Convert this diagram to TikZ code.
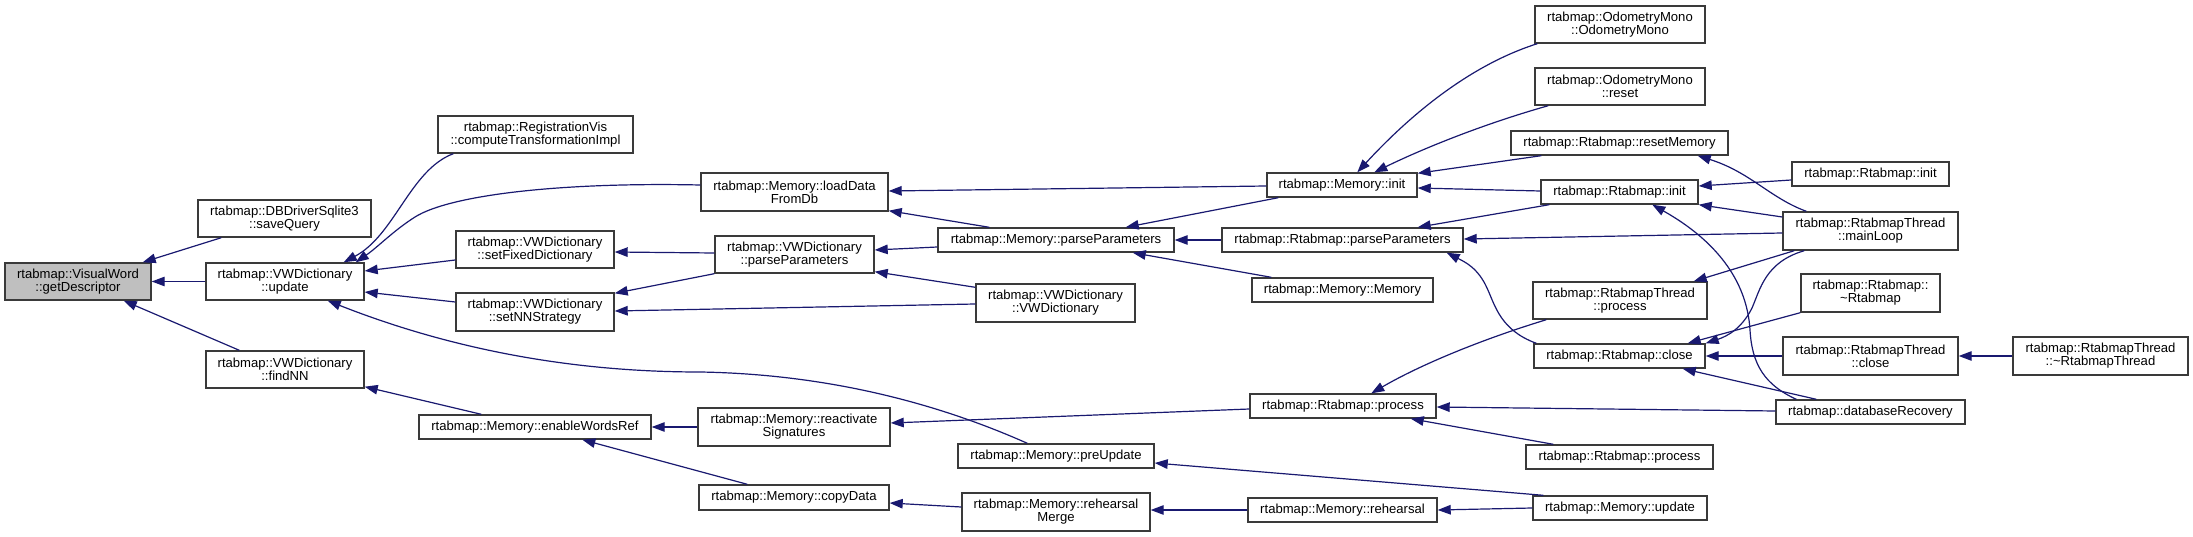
\documentclass[tikz,border=0pt]{standalone}
\usepackage{fontspec}
\setmainfont{Liberation Sans}
\usetikzlibrary{arrows.meta,calc}
\definecolor{edgeblue}{HTML}{191970}
\definecolor{bordergray}{HTML}{3A3A3A}
\definecolor{gdgray}{HTML}{BFBFBF}
\newcommand{\fs}{\fontsize{13.1}{13}\selectfont}
\newcommand{\bx}[7][]{\node[box,#1,minimum width={(#5-#3)*1pt},minimum height={(#6-#4)*1pt}] (#2) at ({(#3+#5)/2},{(#4+#6)/2}) {#7};}
\begin{document}
\begin{tikzpicture}[x=1pt,y=-1pt,
  box/.style={draw=bordergray, line width=1.4pt, fill=white, inner sep=0pt, align=center, font=\fs},
  edge/.style={draw=edgeblue, line width=1.2pt, -{Triangle[length=13pt,width=9.5pt]}}]
\fill[white] (0,0) rectangle (2193,537);
\useasboundingbox (0,0) rectangle (2193,537);

\bx[fill=gdgray]{gd}{5}{263}{151}{300}{rtabmap::VisualWord\\::getDescriptor}
\bx{sq}{198}{200}{371}{237}{rtabmap::DBDriverSqlite3\\::saveQuery}
\bx{vu}{206}{263}{364}{300}{rtabmap::VWDictionary\\::update}
\bx{fn}{206}{351}{364}{388}{rtabmap::VWDictionary\\::findNN}
\bx{rv}{438}{116}{633}{153}{rtabmap::RegistrationVis\\::computeTransformationImpl}
\bx{ld}{701}{173}{888}{211}{rtabmap::Memory::loadData\\FromDb}
\bx{sf}{456}{231}{614}{268}{rtabmap::VWDictionary\\::setFixedDictionary}
\bx{sn}{456}{293}{614}{331}{rtabmap::VWDictionary\\::setNNStrategy}
\bx{vp}{715}{236}{874}{273}{rtabmap::VWDictionary\\::parseParameters}
\bx{ew}{419}{415}{651}{439}{rtabmap::Memory::enableWordsRef}
\bx{rs}{698}{408}{890}{446}{rtabmap::Memory::reactivate\\Signatures}
\bx{cd}{699}{485}{889}{510}{rtabmap::Memory::copyData}
\bx{vd}{976}{284}{1135}{322}{rtabmap::VWDictionary\\::VWDictionary}
\bx{pu}{958}{444}{1154}{468}{rtabmap::Memory::preUpdate}
\bx{rm}{962}{493}{1150}{531}{rtabmap::Memory::rehearsal\\Merge}
\bx{mp}{938}{228}{1174}{252}{rtabmap::Memory::parseParameters}
\bx{om}{1535}{6}{1705}{43}{rtabmap::OdometryMono\\::OdometryMono}
\bx{omr}{1535}{68}{1705}{105}{rtabmap::OdometryMono\\::reset}
\bx{rsm}{1511}{131}{1728}{155}{rtabmap::Rtabmap::resetMemory}
\bx{mi}{1267}{173}{1417}{197}{rtabmap::Memory::init}
\bx{ri}{1541}{180}{1698}{204}{rtabmap::Rtabmap::init}
\bx{rp}{1222}{228}{1463}{252}{rtabmap::Rtabmap::parseParameters}
\bx{mm}{1252}{278}{1433}{302}{rtabmap::Memory::Memory}
\bx{tp}{1533}{282}{1707}{319}{rtabmap::RtabmapThread\\::process}
\bx{rc}{1534}{344}{1705}{368}{rtabmap::Rtabmap::close}
\bx{rpr}{1250}{394}{1436}{418}{rtabmap::Rtabmap::process}
\bx{rpb}{1526}{445}{1713}{469}{rtabmap::Rtabmap::process}
\bx{mr}{1248}{498}{1437}{522}{rtabmap::Memory::rehearsal}
\bx{mu}{1533}{496}{1707}{520}{rtabmap::Memory::update}
\bx{rib}{1792}{162}{1949}{186}{rtabmap::Rtabmap::init}
\bx{ml}{1783}{212}{1958}{250}{rtabmap::RtabmapThread\\::mainLoop}
\bx{dr}{1801}{274}{1940}{312}{rtabmap::Rtabmap::\\\textasciitilde Rtabmap}
\bx{tc}{1783}{337}{1958}{375}{rtabmap::RtabmapThread\\::close}
\bx{dt}{2013}{337}{2188}{375}{rtabmap::RtabmapThread\\::\textasciitilde RtabmapThread}
\bx{db}{1776}{400}{1965}{424}{rtabmap::databaseRecovery}

% edges (arrow at callee on the left)
\draw[edge] ($(sq.south west)+(24,0)$) -- ($(gd.north east)+(-9,0)$);
\draw[edge] (vu.west) -- (gd.east);
\draw[edge] ($(fn.north west)+(34,0)$) -- ($(gd.south east)+(-28,0)$);
\draw[edge] ($(rv.south west)+(16,0)$) .. controls (410,170) and (395,235) .. ($(vu.north east)+(-21,0)$);
\draw[edge] ($(ld.west)+(0,-7)$) .. controls (560,182) and (450,195) .. (415,217) .. controls (393,231) and (378,247) .. ($(vu.north east)+(-9,0)$);
\draw[edge] ($(sf.west)+(0,10.5)$) -- ($(vu.east)+(0,-10.5)$);
\draw[edge] ($(sn.west)+(0,-10)$) -- ($(vu.east)+(0,10.5)$);
\draw[edge] ($(pu.north west)+(70,0)$) .. controls (930,400) and (820,374) .. (700,372) .. controls (560,372) and (440,345) .. ($(vu.south east)+(-37,0)$);
\draw[edge] ($(ew.north west)+(63,0)$) -- ($(fn.south east)+(0,-2)$);
\draw[edge] ($(mi.west)+(0,1)$) -- ($(ld.east)+(0,-1)$);
\draw[edge] ($(mp.north west)+(52,0)$) -- ($(ld.south east)+(0,-1)$);
\draw[edge] ($(vp.west)+(0,-1.5)$) -- ($(sf.east)+(0,2.5)$);
\draw[edge] (vp.south west) -- ($(sn.north east)+(0,1)$);
\draw[edge] ($(vd.west)+(0,1)$) -- ($(sn.east)+(0,-1)$);
\draw[edge] ($(mp.west)+(0,7)$) -- ($(vp.east)+(0,-4.5)$);
\draw[edge] ($(vd.north west)+(0,4)$) -- ($(vp.south east)+(0,-2)$);
\draw[edge] (rs.west) -- (ew.east);
\draw[edge] ($(cd.north west)+(49,0)$) -- ($(ew.south west)+(164,0)$);
\draw[edge] ($(rpr.west)+(0,3)$) -- ($(rs.east)+(0,-4)$);
\draw[edge] ($(rm.west)+(0,-5)$) -- ($(cd.east)+(0,5.5)$);
\draw[edge] ($(mu.north west)+(11,0)$) -- ($(pu.east)+(0,7)$);
\draw[edge] (mr.west) -- ($(rm.east)+(0,-2)$);
\draw[edge] ($(mi.south west)+(12,0)$) -- ($(mp.north east)+(-49,0)$);
\draw[edge] (rp.west) -- (mp.east);
\draw[edge] ($(mm.north west)+(20,0)$) -- ($(mp.south east)+(-42,0)$);
\draw[edge] ($(om.south west)+(3,0)$) .. controls (1470,65) and (1410,115) .. ($(mi.north west)+(91,0)$);
\draw[edge] ($(omr.south west)+(14,0)$) .. controls (1480,125) and (1420,150) .. ($(mi.north west)+(108,0)$);
\draw[edge] ($(rsm.south west)+(31,0)$) -- ($(mi.north east)+(0,1)$);
\draw[edge] ($(ri.west)+(0,-1)$) -- ($(mi.east)+(0,3)$);
\draw[edge] ($(ri.south west)+(9,0)$) -- ($(rp.north east)+(-46,0)$);
\draw[edge] ($(ml.west)+(0,2)$) -- ($(rp.east)+(0,-1)$);
\draw[edge] ($(rc.north west)+(3,0)$) .. controls (1500,330) and (1495,305) .. (1487,288) .. controls (1478,268) and (1465,262) .. ($(rp.south east)+(-17,0)$);
\draw[edge] ($(ml.north west)+(24,0)$) .. controls (1770,198) and (1750,172) .. ($(rsm.south east)+(-31,0)$);
\draw[edge] ($(rib.west)+(0,6)$) -- ($(ri.east)+(0,-6)$);
\draw[edge] ($(ml.west)+(0,-14)$) -- (ri.south east);
\draw[edge] ($(ml.south west)+(12,0)$) -- ($(tp.north east)+(-14,0)$);
\draw[edge] ($(ml.south west)+(22,0)$) .. controls (1765,262) and (1760,290) .. (1752,308) .. controls (1742,328) and (1728,336) .. (rc.north east);
\draw[edge] (dr.south west) -- ($(rc.north east)+(-18,0)$);
\draw[edge] (tc.west) -- (rc.east);
\draw[edge] ($(db.north west)+(41,0)$) -- ($(rc.south east)+(-23,0)$);
\draw[edge] (dt.west) -- (tc.east);
\draw[edge] ($(db.west)+(0,-1)$) -- ($(rpr.east)+(0,1)$);
\draw[edge] ($(rpb.north west)+(28,0)$) -- ($(rpr.south east)+(-26,0)$);
\draw[edge] (mu.west) -- (mr.east);
\draw[edge] ($(db.north west)+(21,0)$) .. controls (1765,385) and (1752,365) .. (1750,330) .. controls (1747,280) and (1715,240) .. ($(ri.south west)+(112,0)$);
\draw[edge] ($(tp.south west)+(14,0)$) .. controls (1480,340) and (1420,365) .. ($(rpr.north west)+(122,0)$);
\end{tikzpicture}
\end{document}
